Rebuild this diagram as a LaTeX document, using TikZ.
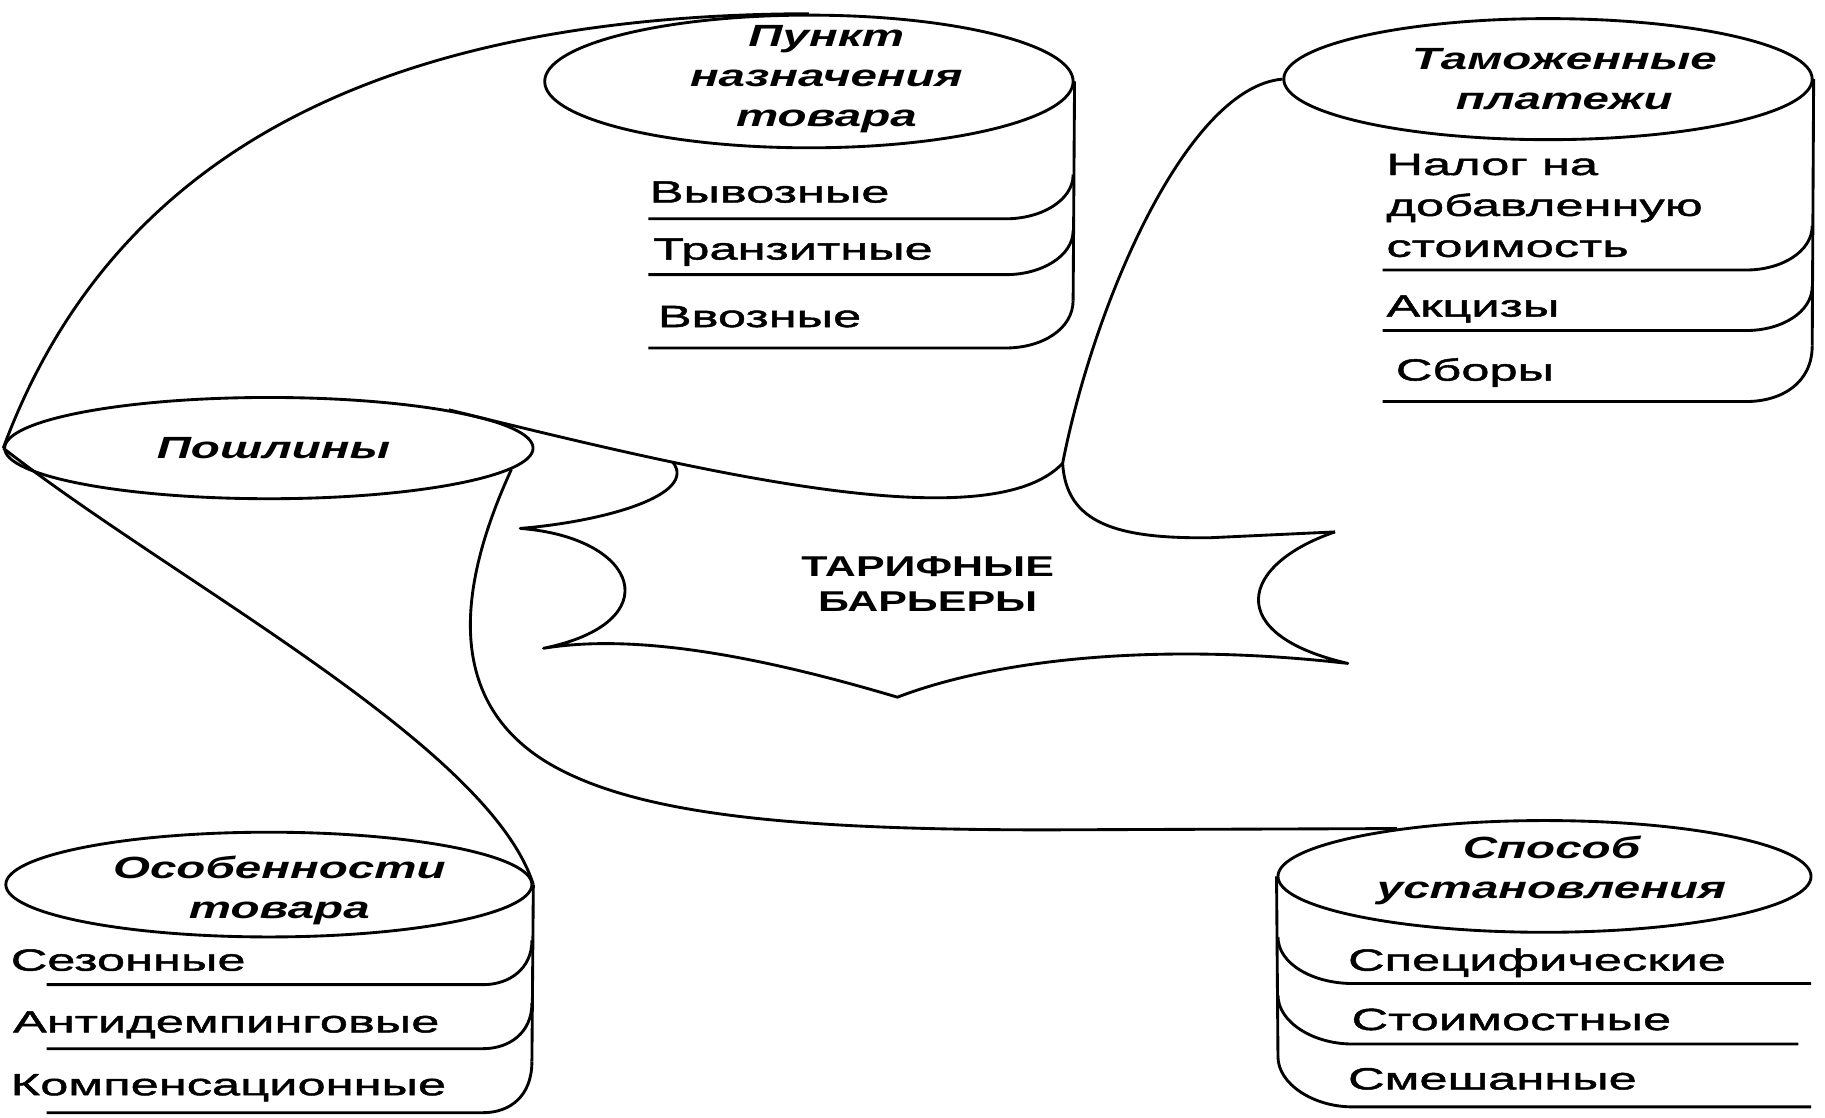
\documentclass[tikz,border=0pt]{standalone}
\usepackage{fontspec}
\setmainfont{Liberation Sans}
\newfontfamily\itemfont[FakeStretch=1.65, FakeBold=1.5]{Liberation Sans}
\newfontfamily\headfont[FakeStretch=1.55]{Liberation Sans}
\newfontfamily\barfont[FakeStretch=1.5]{Liberation Sans}
\usepackage{tikz}
\usetikzlibrary{shapes.geometric}

\begin{document}
\begin{tikzpicture}[x=0.2mm, y=-0.2mm, line width=1.4pt, line join=round,
  head/.style={ellipse, draw, inner sep=0pt},
  headtext/.style={align=center, inner sep=0pt, font=\headfont\bfseries\itshape\fontsize{15}{19.5}\selectfont},
  item/.style={anchor=base west, inner sep=0pt, font=\itemfont\fontsize{15}{20}\selectfont},
  bartext/.style={align=center, inner sep=0pt, font=\barfont\bfseries\fontsize{14}{17}\selectfont}]
\useasboundingbox (0,0) rectangle (1568,960);

% heads of the cylinders
\node[head, minimum width=90.8mm, minimum height=22.8mm] (pnkt) at (695,70) {};
\node[head, minimum width=90.8mm, minimum height=20.8mm] (tam) at (1330,68) {};
\node[head, minimum width=90.8mm, minimum height=17.4mm] (psh) at (231,385) {};
\node[head, minimum width=90.4mm, minimum height=18mm] (osob) at (231,760) {};
\node[head, minimum width=91.6mm, minimum height=19.2mm] (spos) at (1327,753) {};

\node[headtext] (pnkt-t) at (710,68) {Пункт\\назначения\\товара};
\node[headtext] (tam-t) at (1344,68) {Таможенные\\платежи};
\node[headtext] (psh-t) at (235,385) {Пошлины};
\node[headtext] (osob-t) at (240,765) {Особенности\\товара};
\node[headtext] (spos-t) at (1333,748) {Способ\\установления};

% Пункт назначения товара
\draw (pnkt.east) -- (922,258);
\draw (557,188) -- (864,188) .. controls (895,188) and (922,172) .. (922,150);
\draw (557,236) -- (864,236) .. controls (895,236) and (922,220) .. (922,198);
\draw (557,299) -- (864,299) .. controls (895,299) and (922,283) .. (922,258);
\node[item] (vyv) at (557,174) {Вывозные};
\node[item] (tran) at (560,223) {Транзитные};
\node[item] (vvoz) at (564,281) {Ввозные};

% Таможенные платежи
\draw (tam.east) -- (1557,297);
\draw (1188,232) -- (1500,232) .. controls (1531,232) and (1557,216) .. (1557,194);
\draw (1188,284) -- (1500,284) .. controls (1531,284) and (1557,268) .. (1557,246);
\draw (1188,345) -- (1500,345) .. controls (1531,345) and (1557,329) .. (1557,297);
\node[item, anchor=north west, align=left] (nds) at (1190,131) {Налог на\\добавленную\\стоимость};
\node[item] (akc) at (1190,272) {Акцизы};
\node[item] (sbor) at (1198,327) {Сборы};

% Особенности товара
\draw (osob.east) -- (457,912);
\draw (40,846) -- (415,846) .. controls (438,846) and (457,832) .. (457,808);
\draw (40,901) -- (415,901) .. controls (438,901) and (457,887) .. (457,862);
\draw (40,956) -- (415,956) .. controls (438,956) and (457,942) .. (457,912);
\node[item] (sez) at (8,834) {Сезонные};
\node[item] (anti) at (10,887) {Антидемпинговые};
\node[item] (komp) at (8,941) {Компенсационные};

% Способ установления
\draw (spos.west) -- (1098,908);
\draw (1098,805) .. controls (1098,828) and (1128,845) .. (1162,845) -- (1556,845);
\draw (1098,855) .. controls (1098,878) and (1128,897) .. (1162,897) -- (1545,897);
\draw (1098,908) .. controls (1098,931) and (1128,951) .. (1162,951) -- (1556,951);
\node[item] (spec) at (1157,834) {Специфические};
\node[item] (stoim) at (1160,885) {Стоимостные};
\node[item] (smesh) at (1157,936) {Смешанные};

% tariff barriers
\coordinate (jn) at (913,398);
\coordinate (ur) at (1147,457);
\coordinate (lr) at (1158,570);
\coordinate (bt) at (771,599);
\coordinate (ll) at (467,557);
\coordinate (ul) at (447,454);
\coordinate (lb) at (578,397);
\node[bartext] (bar) at (797,502) {ТАРИФНЫЕ\\БАРЬЕРЫ};
\draw (psh.12) .. controls (600,405) and (850,465) .. (jn);
\draw (tam.west) .. controls (1020,75) and (940,260) .. (jn)
  .. controls (916,450) and (960,463) .. (1040,462) -- (ur);
\draw (ur) .. controls (1065,485) and (1050,545) .. (lr)
  .. controls (1000,552) and (860,565) .. (bt)
  .. controls (640,560) and (540,545) .. (ll)
  .. controls (575,535) and (550,462) .. (ul)
  .. controls (520,448) and (600,425) .. (lb);

% links between the heads
\draw (psh.west) .. controls (90,150) and (300,13) .. (pnkt.north);
\draw (psh.west) .. controls (150,500) and (420,640) .. (osob.east);
\draw (psh.-5) .. controls (395,500) and (380,600) .. (470,655)
  .. controls (545,700) and (680,713) .. (900,713) -- (spos.162);
\end{tikzpicture}
\end{document}
